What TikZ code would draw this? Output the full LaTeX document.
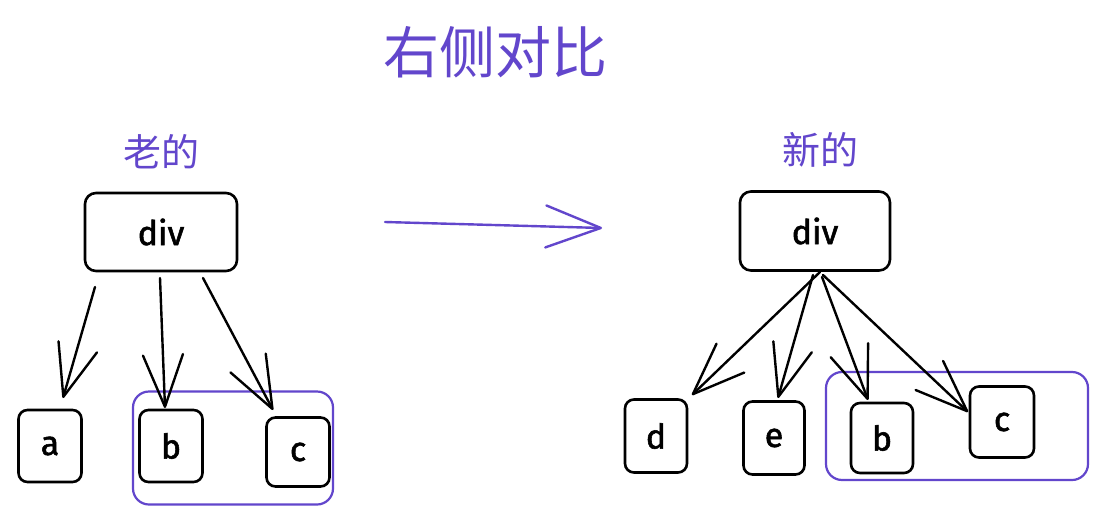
\documentclass[tikz,border=0pt]{standalone}
\usepackage{fontspec}
\setmainfont{Fira Sans}
\newfontfamily\hand{Fira Sans}[FakeBold=1.6]
\newfontfamily\cjk{Noto Sans CJK SC}
\usetikzlibrary{arrows.meta}
\definecolor{vio}{RGB}{98,70,204}
\begin{document}
\begin{tikzpicture}[x=1pt,y=-1pt,
  box/.style={draw=black, line width=2.6pt, rounded corners=11pt, inner sep=0pt,
    font=\hand\fontsize{34}{38}\selectfont, text=black},
  grp/.style={draw=vio, line width=2.2pt, rounded corners=16pt, inner sep=0pt},
  arr/.style={draw=black, line width=2.4pt, line join=round, line cap=round,
    -{Straight Barb[length=52pt,width=40pt,round]}},
  varr/.style={draw=vio, line width=2.4pt, line join=round, line cap=round,
    -{Straight Barb[length=55pt,width=42pt,round]}},
  ttl/.style={text=vio, font=\cjk\fontsize{56}{60}\selectfont, inner sep=0pt},
  sub/.style={text=vio, font=\cjk\fontsize{38}{42}\selectfont, inner sep=0pt}
]
\useasboundingbox (0,0) rectangle (1107,519);
\fill[white] (0,0) rectangle (1107,519);

% titles
\node[ttl] (title) at (495,52) {右侧对比};
\node[sub] (old) at (161,152) {老的};
\node[sub] (new) at (820,150) {新的};

% left tree
\node[box, minimum width=152pt, minimum height=78pt] (ldiv) at (161,232) {div};
\node[box, minimum width=63pt, minimum height=72pt, rounded corners=9pt] (la) at (50,446) {a};
\node[box, minimum width=63pt, minimum height=72pt, rounded corners=9pt] (lb) at (171,446) {b};
\node[box, minimum width=63pt, minimum height=69pt, rounded corners=9pt] (lc) at (298,452) {c};
\node[grp, minimum width=200pt, minimum height=113pt] (lg) at (233,448) {};

\coordinate (la0) at (95,287);  \coordinate (la1) at (63,398);
\coordinate (lb0) at (160,278); \coordinate (lb1) at (165,408);
\coordinate (lc0) at (203,278); \coordinate (lc1) at (273,410);
\draw[arr] (la0) -- (la1);
\draw[arr] (lb0) -- (lb1);
\draw[arr] (lc0) -- (lc1);

% middle arrow
\coordinate (m0) at (385,222); \coordinate (m1) at (602,228);
\draw[varr] (m0) -- (m1);

% right tree
\node[box, minimum width=150pt, minimum height=79pt] (rdiv) at (815,231) {div};
\node[box, minimum width=62pt, minimum height=73pt, rounded corners=9pt] (rd) at (656,436) {d};
\node[box, minimum width=61pt, minimum height=73pt, rounded corners=9pt] (re) at (774,438) {e};
\node[box, minimum width=62pt, minimum height=70pt, rounded corners=9pt] (rb) at (882,438) {b};
\node[box, minimum width=64pt, minimum height=71pt, rounded corners=9pt] (rc) at (1002,422) {c};
\node[grp, minimum width=262pt, minimum height=108pt] (rg) at (957,426) {};

\coordinate (rd0) at (820,272); \coordinate (rd1) at (692,395);
\coordinate (re0) at (813,275); \coordinate (re1) at (778,398);
\coordinate (rb0) at (822,277); \coordinate (rb1) at (868,400);
\coordinate (rc0) at (823,275); \coordinate (rc1) at (968,412);
\draw[arr] (rd0) -- (rd1);
\draw[arr] (re0) -- (re1);
\draw[arr] (rb0) -- (rb1);
\draw[arr] (rc0) -- (rc1);
\end{tikzpicture}
\end{document}
